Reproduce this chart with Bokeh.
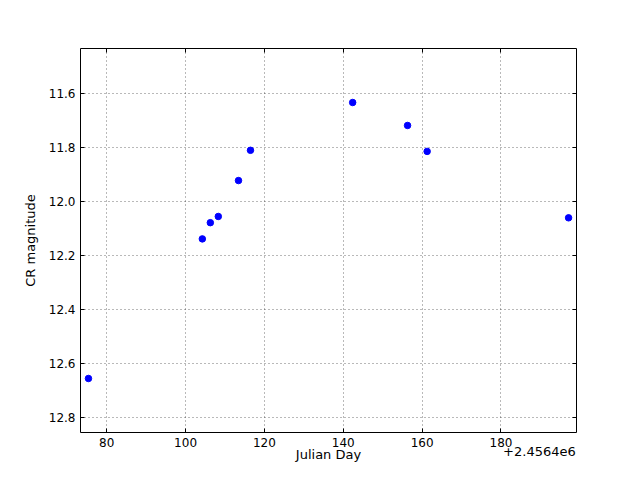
from bokeh.plotting import figure
from bokeh.models import Range1d, LinearAxis, CustomJSTickFormatter, FixedTicker
from bokeh.embed import file_html
from bokeh.resources import INLINE

# Data (Julian Day, CR magnitude)
jd_offset = 2456400
julian_day = [2456475.37, 2456504.25, 2456506.28, 2456508.30, 2456513.42,
              2456516.46, 2456542.38, 2456556.30, 2456561.27, 2456597.14]
cr_mag = [12.654, 12.137, 12.077, 12.054, 11.921,
          11.809, 11.632, 11.717, 11.813, 12.059]

x_ticks = [2456480, 2456500, 2456520, 2456540, 2456560, 2456580]
y_ticks = [11.6, 11.8, 12.0, 12.2, 12.4, 12.6, 12.8]
offset_text = "+2.4564e6"
offset_text_center = jd_offset + 189.75

FONT = "DejaVu Sans"
x_lo, x_hi = jd_offset + 73.35, jd_offset + 199.15
y_lo, y_hi = 12.854, 11.432

p = figure(width=640, height=480, output_backend="svg", toolbar_location=None,
           x_range=Range1d(x_lo, x_hi), y_range=Range1d(y_lo, y_hi),
           min_border_left=80, min_border_right=64, min_border_top=48, min_border_bottom=48,
           background_fill_color="white", border_fill_color="white")

p.outline_line_color = "black"
p.outline_line_width = 1
p.outline_line_alpha = 1

p.scatter(julian_day, cr_mag, size=6.5, fill_color="#0000ff", line_color="#0000ff")

for ax in [p.xaxis[0], p.yaxis[0]]:
    ax.axis_line_color = None
    ax.major_tick_in = 4
    ax.major_tick_out = 0
    ax.minor_tick_line_color = None
    ax.major_tick_line_color = "black"
    ax.major_label_text_font = FONT
    ax.major_label_text_font_size = "12px"
    ax.major_label_text_color = "black"
    ax.axis_label_text_font = FONT
    ax.axis_label_text_font_size = "13px"
    ax.axis_label_text_font_style = "normal"
    ax.axis_label_text_color = "black"
    ax.major_label_standoff = 5

p.xaxis[0].ticker = FixedTicker(ticks=x_ticks)
p.xaxis[0].formatter = CustomJSTickFormatter(code=f"return (tick - {jd_offset}).toFixed(0);")
p.yaxis[0].ticker = FixedTicker(ticks=y_ticks)
p.yaxis[0].formatter = CustomJSTickFormatter(code="return tick.toFixed(1);")
p.yaxis[0].axis_label = "CR magnitude"
p.yaxis[0].axis_label_standoff = 8

# second bottom axis: carries the offset text and the axis title
bottom2 = LinearAxis(ticker=FixedTicker(ticks=[offset_text_center]),
                     formatter=CustomJSTickFormatter(code=f"return '{offset_text}';"),
                     axis_line_color=None, major_tick_in=0, major_tick_out=0,
                     minor_tick_line_color=None, major_tick_line_color=None,
                     major_label_standoff=-3,
                     major_label_text_font=FONT, major_label_text_font_size="13px",
                     major_label_text_color="black",
                     axis_label="Julian Day", axis_label_standoff=-12,
                     axis_label_text_font=FONT, axis_label_text_font_size="13px",
                     axis_label_text_font_style="normal", axis_label_text_color="black")
p.add_layout(bottom2, "below")

# ticks on top and right
top = LinearAxis(ticker=FixedTicker(ticks=x_ticks), major_label_text_color=None,
                 axis_line_color=None, major_tick_in=4, major_tick_out=0,
                 minor_tick_line_color=None, major_label_text_font_size="1px")
right = LinearAxis(ticker=FixedTicker(ticks=y_ticks), major_label_text_color=None,
                   axis_line_color=None, major_tick_in=4, major_tick_out=0,
                   minor_tick_line_color=None, major_label_text_font_size="1px")
p.add_layout(top, "above")
p.add_layout(right, "right")

p.xgrid.ticker = FixedTicker(ticks=x_ticks)
p.ygrid.ticker = FixedTicker(ticks=y_ticks)
for g in [p.xgrid[0], p.ygrid[0]]:
    g.grid_line_color = "black"
    g.grid_line_alpha = 0.55
    g.grid_line_dash = "1 3"
    g.grid_line_width = 1

open("out.html", "w").write(file_html(p, INLINE))
